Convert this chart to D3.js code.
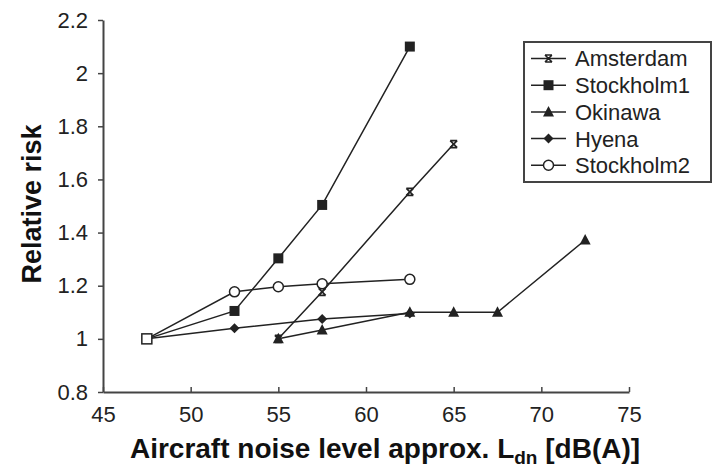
<!DOCTYPE html>
<html><head><meta charset="utf-8">
<script src="https://cdn.jsdelivr.net/npm/d3@7"></script>
<style>
html,body{margin:0;padding:0;background:#fff;}
svg{display:block;font-family:"Liberation Sans",Arial,sans-serif;}
</style></head>
<body><svg id="c" width="721" height="470"></svg>
<script>
// ---- data ----
const seriesNames = ["Amsterdam","Stockholm1","Okinawa","Hyena","Stockholm2"];
const amsterdamX = [55, 57.5, 62.5, 65];
const amsterdamY = [1.0, 1.177, 1.553, 1.733];
const stockholm1X = [47.5, 52.5, 55, 57.5, 62.5];
const stockholm1Y = [1.0, 1.105, 1.303, 1.504, 2.1];
const okinawaX = [55, 57.5, 62.5, 65, 67.5, 72.5];
const okinawaY = [1.0, 1.033, 1.1, 1.1, 1.1, 1.372];
const hyenaX = [47.5, 52.5, 57.5, 62.5];
const hyenaY = [1.0, 1.04, 1.075, 1.095];
const stockholm2X = [47.5, 52.5, 55, 57.5, 62.5];
const stockholm2Y = [1.0, 1.177, 1.196, 1.207, 1.224];
const referencePoint = [47.5, 1.0];
const xTicks = [45, 50, 55, 60, 65, 70, 75];
const yTicks = [0.8, 1, 1.2, 1.4, 1.6, 1.8, 2, 2.2];
const xTitle = "Aircraft noise level approx. L";
const xTitleSub = "dn";
const xTitleEnd = " [dB(A)]";
const yTitle = "Relative risk";

const markerTypes = ["star","square","triangle","diamond","circle"];
const seriesX = [amsterdamX, stockholm1X, okinawaX, hyenaX, stockholm2X];
const seriesY = [amsterdamY, stockholm1Y, okinawaY, hyenaY, stockholm2Y];
const series = seriesNames.map((n,i)=>({name:n, marker:markerTypes[i],
  pts: seriesX[i].map((x,j)=>[x, seriesY[i][j]])}));

const svg = d3.select("#c");
const x = d3.scaleLinear().domain([45,75]).range([103,629]);
const y = d3.scaleLinear().domain([0.8,2.2]).range([392,20]);
const ink = "#222";
const axisCol = "#444";

// axes
const gx = svg.append("g").attr("transform","translate(0,392)")
  .call(d3.axisBottom(x).tickValues(xTicks).tickFormat(d3.format("d")).tickSizeInner(-5).tickSizeOuter(0).tickPadding(14));
const gy = svg.append("g").attr("transform","translate(103,0)")
  .call(d3.axisLeft(y).tickValues(yTicks).tickFormat(d=>String(d)).tickSizeInner(5).tickSizeOuter(0).tickPadding(10));
[gx,gy].forEach(g=>{
  g.select(".domain").attr("stroke",axisCol).attr("stroke-width",2);
  g.selectAll(".tick line").attr("stroke",axisCol).attr("stroke-width",1.5);
  g.selectAll(".tick text").attr("fill","#222").style("font-size","22px").style("font-family","Liberation Sans, Arial, sans-serif");
});
gx.selectAll(".tick text").attr("dy","0.71em");

// marker drawing
function drawMarker(g, type, cx, cy){
  if(type==="square"){
    g.append("rect").attr("x",cx-5).attr("y",cy-5).attr("width",10).attr("height",10).attr("fill",ink);
  } else if(type==="triangle"){
    g.append("path").attr("d",`M${cx},${cy-6}L${cx+5.5},${cy+4.5}L${cx-5.5},${cy+4.5}Z`).attr("fill",ink);
  } else if(type==="diamond"){
    g.append("path").attr("d",`M${cx},${cy-5}L${cx+5},${cy}L${cx},${cy+5}L${cx-5},${cy}Z`).attr("fill",ink);
  } else if(type==="circle"){
    g.append("circle").attr("cx",cx).attr("cy",cy).attr("r",5).attr("fill","#fff").attr("stroke",ink).attr("stroke-width",1.5);
  } else if(type==="star"){
    const r=3.5;
    g.append("path").attr("d",`M${cx-r},${cy-r}L${cx+r},${cy+r}M${cx+r},${cy-r}L${cx-r},${cy+r}M${cx-r},${cy-r}L${cx+r},${cy-r}M${cx-r},${cy+r}L${cx+r},${cy+r}`)
      .attr("stroke",ink).attr("stroke-width",1.6).attr("fill","none");
  }
}

const line = d3.line().x(d=>x(d[0])).y(d=>y(d[1]));
const plot = svg.append("g");
series.forEach(s=>{
  plot.append("path").attr("d",line(s.pts)).attr("fill","none").attr("stroke",ink).attr("stroke-width",1.5);
});
series.forEach(s=>{
  const g = plot.append("g");
  s.pts.forEach(p=>{
    if(p[0]===referencePoint[0] && p[1]===referencePoint[1]) return;
    drawMarker(g, s.marker, x(p[0]), y(p[1]));
  });
});
// common reference point marker (open square)
plot.append("rect").attr("x",x(referencePoint[0])-5).attr("y",y(referencePoint[1])-5)
  .attr("width",10).attr("height",10).attr("fill","#fff").attr("stroke",ink).attr("stroke-width",1.5);

// titles
svg.append("text").attr("transform","translate(41,204) rotate(-90)").attr("text-anchor","middle")
  .attr("font-weight","bold").style("font-size","27px").attr("fill","#111").text(yTitle);
const xt = svg.append("text").attr("x",385).attr("y",458).attr("text-anchor","middle")
  .attr("font-weight","bold").style("font-size","28px").attr("fill","#111");
xt.append("tspan").text(xTitle);
xt.append("tspan").attr("dy",6).style("font-size","19px").text(xTitleSub);
xt.append("tspan").attr("dy",-6).text(xTitleEnd);

// legend
const lg = svg.append("g");
lg.append("rect").attr("x",524).attr("y",42).attr("width",187).attr("height",140)
  .attr("fill","#fff").attr("stroke",axisCol).attr("stroke-width",2);
series.forEach((s,i)=>{
  const cy = 58.5 + i*26.7;
  lg.append("line").attr("x1",531).attr("x2",566).attr("y1",cy).attr("y2",cy).attr("stroke",ink).attr("stroke-width",1.5);
  drawMarker(lg, s.marker, 548.5, cy);
  lg.append("text").attr("x",575).attr("y",cy).attr("dy","0.36em").style("font-size","22px").attr("fill","#222").text(s.name);
});
</script></body></html>
